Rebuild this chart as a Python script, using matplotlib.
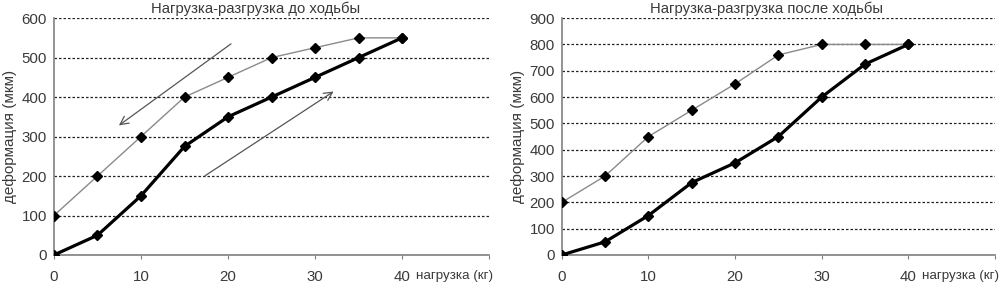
import matplotlib.pyplot as plt
import numpy as np

plt.rcParams['font.family'] = ['Liberation Sans', 'DejaVu Sans']

# нагрузка (кг)
load = [0, 5, 10, 15, 20, 25, 30, 35, 40]

# до ходьбы
before_load = [0, 50, 150, 275, 350, 400, 450, 500, 550]
before_unload = [100, 200, 300, 400, 450, 500, 525, 550, 550]

# после ходьбы
after_load = [0, 50, 150, 275, 350, 450, 600, 725, 800]
after_unload = [200, 300, 450, 550, 650, 760, 800, 800, 800]

titles = ['Нагрузка-разгрузка до ходьбы', 'Нагрузка-разгрузка после ходьбы']
ymax = [600, 900]

fig = plt.figure(figsize=(10.05, 2.83), dpi=100)
ax1 = fig.add_axes([0.0537, 0.099, 0.433, 0.837])
ax2 = fig.add_axes([0.559, 0.099, 0.431, 0.837])

txt = '#3a3a3a'


def draw(ax, y_load, y_unload, top):
    ax.plot(load, y_unload, color='#8a8a8a', lw=1.0, marker='D', ms=5.5,
            mfc='black', mec='black', zorder=3)
    ax.plot(load, y_load, color='black', lw=2.3, marker='D', ms=5.5,
            mfc='black', mec='black', zorder=4)
    ax.set_xlim(0, 50)
    ax.set_ylim(0, top)
    ax.set_xticks([0, 10, 20, 30, 40, 50])
    ax.set_xticklabels(['0', '10', '20', '30', '40', ''])
    ax.set_yticks(np.arange(0, top + 1, 100))
    ax.yaxis.grid(True, linestyle=(0, (2, 1.6)), color='#222222', lw=0.9)
    ax.set_axisbelow(True)
    for s in ['top', 'right']:
        ax.spines[s].set_visible(False)
    for s in ['left', 'bottom']:
        ax.spines[s].set_color('#808080')
        ax.spines[s].set_linewidth(1.2)
    ax.tick_params(axis='y', length=0, labelsize=10.8, colors=txt, pad=5)
    ax.tick_params(axis='x', length=3, color='#808080', labelsize=10.8,
                   labelcolor=txt, pad=8)
    ax.set_ylabel('деформация (мкм)', fontsize=11, color=txt, labelpad=3)
    ax.text(50.5, -top * 0.088, 'нагрузка (кг)', ha='right', va='center',
            fontsize=9.6, color=txt, clip_on=False)


draw(ax1, before_load, before_unload, ymax[0])
draw(ax2, after_load, after_unload, ymax[1])

# стрелки на первом графике
ax1.annotate('', xy=(7.2, 324), xytext=(20.6, 539),
             arrowprops=dict(arrowstyle='->,head_length=0.6,head_width=0.3',
                             color='#555555', lw=0.9))
ax1.annotate('', xy=(32.4, 418), xytext=(17.1, 197),
             arrowprops=dict(arrowstyle='->,head_length=0.6,head_width=0.3',
                             color='#555555', lw=0.9))

fig.text(256 / 1005, 1 - 9 / 283, titles[0], ha='center', va='center',
         fontsize=10.7, color=txt)
fig.text(766 / 1005, 1 - 9 / 283, titles[1], ha='center', va='center',
         fontsize=10.7, color=txt)

fig.savefig('out.png', dpi=100)
